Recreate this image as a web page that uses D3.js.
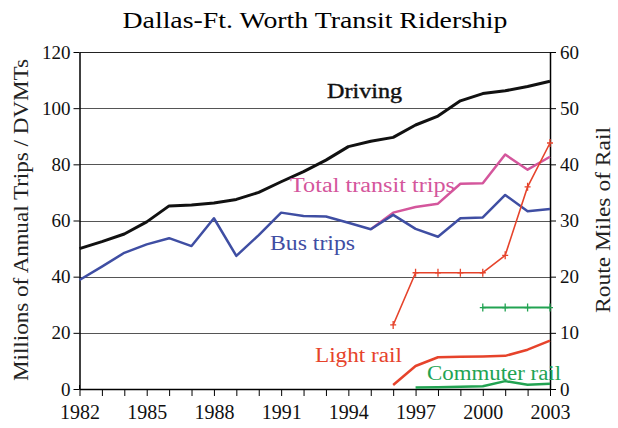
<!DOCTYPE html>
<html>
<head>
<meta charset="utf-8">
<title>Dallas-Ft. Worth Transit Ridership</title>
<style>
  body { margin: 0; background: #fff; }
  svg text { font-family: "Liberation Serif", Tinos, "DejaVu Serif", serif !important; }
  .axis path, .axis line { stroke: #000; }
  .grid line { stroke: #555; stroke-width: 1; }
</style>
</head>
<body>
<svg width="618" height="428"></svg>
<script src="https://d3js.org/d3.v7.min.js"></script>
<script>
// values
const years = [1982, 1983, 1984, 1985, 1986, 1987, 1988, 1989, 1990, 1991, 1992,
               1993, 1994, 1995, 1996, 1997, 1998, 1999, 2000, 2001, 2002, 2003];
const yearLabels = [1982, 1985, 1988, 1991, 1994, 1997, 2000, 2003];
const leftTicks = [0, 20, 40, 60, 80, 100, 120];
const rightTicks = [0, 10, 20, 30, 40, 50, 60];

// millions of annual trips / DVMT (left axis)
const driving = [50, 52.5, 55.2, 59.5, 65.2, 65.5, 66.2, 67.5, 70, 73.8, 77.4,
                 81.5, 86.3, 88.2, 89.6, 94, 97.2, 102.6, 105.2, 106.2, 107.7, 109.6];
const busTrips = [38.8, 43.6, 48.5, 51.5, 53.7, 50.9, 60.8, 47.4, 54.8, 62.8, 61.6,
                  61.4, 59.2, 56.9, 62, 57, 54.2, 60.8, 61.1, 69.1, 63.3, 64.1];
const transitYears = [1995, 1996, 1997, 1998, 1999, 2000, 2001, 2002, 2003];
const totalTransit = [56.9, 62.8, 64.8, 66, 73.1, 73.3, 83.5, 78.1, 82.7];
const lightRailYears = [1996, 1997, 1998, 1999, 2000, 2001, 2002, 2003];
const lightRailTrips = [1.4, 8.2, 11.3, 11.5, 11.6, 11.8, 14, 17.2];
const commuterYears = [1997, 1998, 1999, 2000, 2001, 2002, 2003];
const commuterTrips = [0.5, 0.6, 0.8, 1, 2.8, 1.5, 1.9];

// route miles of rail (right axis)
const lightRailMiles = [11.4, 20.7, 20.7, 20.7, 20.7, 23.8, 36, 43.8];
const commuterMileYears = [2000, 2001, 2002, 2003];
const commuterMiles = [14.5, 14.5, 14.5, 14.5];

const colors = {
  driving: "#111",
  bus: "#3f4ea3",
  total: "#d4569c",
  light: "#e6432b",
  commuter: "#22a352"
};
const serif = '"Liberation Serif", Tinos, "DejaVu Serif", serif';

const svg = d3.select("svg");
const plotL = 79.5, plotR = 550, plotT = 52, plotB = 389;

const x = d3.scaleLinear().domain([1982, 2003]).range([plotL, plotR]);
const yL = d3.scaleLinear().domain([0, 120]).range([plotB, plotT]);
const yR = d3.scaleLinear().domain([0, 60]).range([plotB, plotT]);

// title
svg.append("text")
  .attr("x", 315).attr("y", 28)
  .attr("text-anchor", "middle")
  .attr("font-family", serif)
  .attr("font-size", 24)
  .attr("textLength", 385)
  .attr("lengthAdjust", "spacingAndGlyphs")
  .text("Dallas-Ft. Worth Transit Ridership");

// gridlines
svg.append("g").attr("class", "grid")
  .selectAll("line")
  .data(leftTicks.filter(d => d > 0))
  .join("line")
  .attr("x1", plotL).attr("x2", plotR)
  .attr("y1", d => Math.round(yL(d)) + 0.5)
  .attr("y2", d => Math.round(yL(d)) + 0.5)
  .style("stroke", d => d === 120 ? "#222" : "#555");

// axes
const gl = svg.append("g").attr("class", "axis")
  .attr("transform", `translate(${plotL},0)`)
  .call(d3.axisLeft(yL).tickValues(leftTicks).tickSize(6).tickSizeOuter(0).tickPadding(3));
const gr = svg.append("g").attr("class", "axis")
  .attr("transform", `translate(${plotR},0)`)
  .call(d3.axisRight(yR).tickValues(rightTicks).tickSize(6).tickSizeOuter(0).tickPadding(4));
const gb = svg.append("g").attr("class", "axis")
  .attr("transform", `translate(0,${plotB})`)
  .call(d3.axisBottom(x).tickValues(years).tickSize(7).tickSizeOuter(0).tickPadding(9)
    .tickFormat(d => yearLabels.includes(d) ? d : ""));
// little cross tick at the origin
gb.append("line").attr("x1", plotL).attr("x2", plotL).attr("y1", -4).attr("y2", 0).attr("stroke", "#000");

[gl, gr, gb].forEach(g => {
  g.attr("font-family", serif).attr("font-size", 19);
  g.selectAll("path.domain").attr("stroke-width", 1.5);
  g.selectAll("text").attr("fill", "#111");
});
gb.attr("font-size", 20);

// axis titles
svg.append("text")
  .attr("transform", "translate(28,220) rotate(-90)")
  .attr("text-anchor", "middle")
  .attr("font-family", serif)
  .attr("font-size", 20)
  .attr("fill", "#222")
  .attr("textLength", 322)
  .attr("lengthAdjust", "spacingAndGlyphs")
  .text("Millions of Annual Trips / DVMTs");
svg.append("text")
  .attr("transform", "translate(610,220) rotate(-90)")
  .attr("text-anchor", "middle")
  .attr("font-family", serif)
  .attr("font-size", 20)
  .attr("fill", "#222")
  .attr("textLength", 186)
  .attr("lengthAdjust", "spacingAndGlyphs")
  .text("Route Miles of Rail");

// lines
function drawLine(xs, vs, scale, color, width) {
  const line = d3.line().x((d, i) => x(xs[i])).y(d => scale(d));
  svg.append("path")
    .datum(vs)
    .attr("fill", "none")
    .attr("stroke", color)
    .attr("stroke-width", width)
    .attr("stroke-linejoin", "round")
    .attr("d", line);
}
function drawCrosses(xs, vs, scale, color) {
  svg.append("g").selectAll("path")
    .data(vs)
    .join("path")
    .attr("transform", (d, i) => `translate(${x(xs[i])},${scale(d)})`)
    .attr("d", "M-3,0H3M0,-4V4")
    .attr("stroke", color)
    .attr("stroke-width", 1.3);
}

drawLine(years, driving, yL, colors.driving, 3);
drawLine(transitYears, totalTransit, yL, colors.total, 2.5);
drawLine(years, busTrips, yL, colors.bus, 2.5);
drawLine(lightRailYears, lightRailTrips, yL, colors.light, 2.5);
drawLine(commuterYears, commuterTrips, yL, colors.commuter, 2.5);
drawLine(lightRailYears, lightRailMiles, yR, colors.light, 1.6);
drawCrosses(lightRailYears, lightRailMiles, yR, colors.light);
drawLine(commuterMileYears, commuterMiles, yR, colors.commuter, 2);
drawCrosses(commuterMileYears, commuterMiles, yR, colors.commuter);

// series labels
const labels = [
  { text: "Driving", x: 327, y: 98, w: 75, color: colors.driving },
  { text: "Total transit trips", x: 290, y: 192, w: 165, color: colors.total },
  { text: "Bus trips", x: 270, y: 250, w: 85, color: colors.bus },
  { text: "Light rail", x: 315, y: 362, w: 87, color: colors.light },
  { text: "Commuter rail", x: 427, y: 380, w: 134, color: colors.commuter }
];
svg.append("g").selectAll("text")
  .data(labels)
  .join("text")
  .attr("x", d => d.x).attr("y", d => d.y)
  .attr("font-family", serif)
  .attr("font-size", 20)
  .attr("textLength", d => d.w)
  .attr("lengthAdjust", "spacingAndGlyphs")
  .attr("fill", d => d.color)
  .attr("stroke", d => d.text === "Driving" ? d.color : null)
  .attr("stroke-width", d => d.text === "Driving" ? 0.4 : null)
  .text(d => d.text);
</script>
</body>
</html>
